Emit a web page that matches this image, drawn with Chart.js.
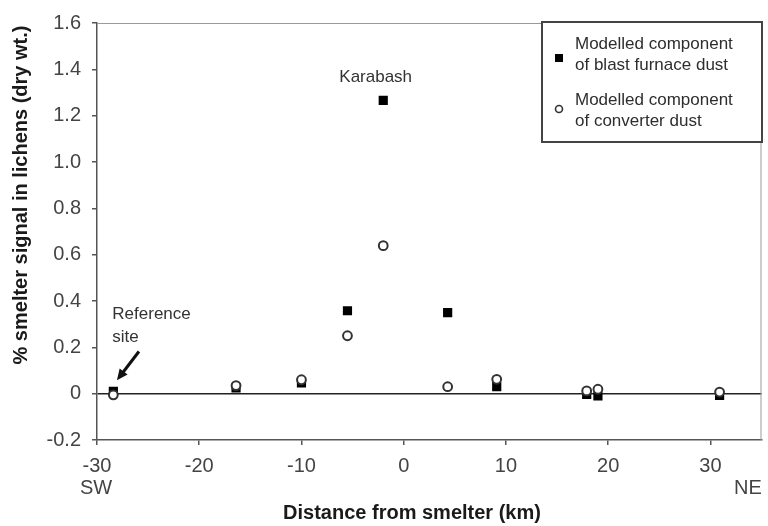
<!DOCTYPE html>
<html>
<head>
<meta charset="utf-8">
<script src="https://cdn.jsdelivr.net/npm/chart.js@4.4.0/dist/chart.umd.min.js"></script>
<style>
  body { margin: 0; background: #fff; }
  canvas { display: block; }
</style>
</head>
<body>
<canvas id="chart" width="768" height="526"></canvas>
<script>
// Distance from smelter (km), negative = SW, positive = NE
const distance = [-28.4, -16.4, -10.0, -5.5, -2.0, 4.3, 9.1, 17.9, 19.0, 30.9];
// % smelter signal in lichens (dry wt.)
const blastFurnace = [0.01, 0.025, 0.046, 0.358, 1.266, 0.35, 0.03, -0.003, -0.01, -0.007];
const converter = [-0.005, 0.035, 0.06, 0.25, 0.639, 0.03, 0.062, 0.012, 0.019, 0.007];

const xTicks = [-30, -20, -10, 0, 10, 20, 30];
const yTicks = [-0.2, 0, 0.2, 0.4, 0.6, 0.8, 1.0, 1.2, 1.4, 1.6];

const legendLabels = [
    ['Modelled component', 'of blast furnace dust'],
    ['Modelled component', 'of converter dust']
];

const FONT = '"Liberation Sans", Arial, sans-serif';

function toPoints(xs, ys) {
    return xs.map((x, i) => ({ x: x, y: ys[i] }));
}

// frame, legend, annotations and axis titles
const decorations = {
    id: 'decorations',
    afterDraw(chart) {
        const { ctx, chartArea: a, scales: { x, y } } = chart;
        ctx.save();

        // thin frame on top and right
        ctx.strokeStyle = '#9a9a9a';
        ctx.lineWidth = 1;
        ctx.beginPath();
        ctx.moveTo(a.left, a.top + 0.5);
        ctx.lineTo(a.right - 0.5, a.top + 0.5);
        ctx.lineTo(a.right - 0.5, a.bottom);
        ctx.stroke();

        // annotations
        ctx.fillStyle = '#333';
        ctx.font = '17px ' + FONT;
        ctx.textAlign = 'left';
        ctx.textBaseline = 'middle';
        ctx.fillText('Karabash', x.getPixelForValue(-6.3), y.getPixelForValue(1.364));
        ctx.fillText('Reference', x.getPixelForValue(-28.5), y.getPixelForValue(0.341));
        ctx.fillText('site', x.getPixelForValue(-28.5), y.getPixelForValue(0.243));

        // arrow to reference site
        const x0 = x.getPixelForValue(-25.9), y0 = y.getPixelForValue(0.182);
        const x1 = x.getPixelForValue(-28.05), y1 = y.getPixelForValue(0.058);
        const ang = Math.atan2(y1 - y0, x1 - x0);
        ctx.strokeStyle = '#111';
        ctx.fillStyle = '#111';
        ctx.lineWidth = 3;
        ctx.beginPath();
        ctx.moveTo(x0, y0);
        ctx.lineTo(x1 - 6 * Math.cos(ang), y1 - 6 * Math.sin(ang));
        ctx.stroke();
        ctx.beginPath();
        ctx.moveTo(x1, y1);
        ctx.lineTo(x1 - 11 * Math.cos(ang) + 5 * Math.sin(ang), y1 - 11 * Math.sin(ang) - 5 * Math.cos(ang));
        ctx.lineTo(x1 - 11 * Math.cos(ang) - 5 * Math.sin(ang), y1 - 11 * Math.sin(ang) + 5 * Math.cos(ang));
        ctx.closePath();
        ctx.fill();

        // legend box
        const lx = 542, ly = 22, lw = 220, lh = 120;
        ctx.fillStyle = '#fff';
        ctx.fillRect(lx, ly, lw, lh);
        ctx.strokeStyle = '#444';
        ctx.lineWidth = 2;
        ctx.strokeRect(lx, ly, lw, lh);

        ctx.fillStyle = '#2e2e2e';
        ctx.font = '17px ' + FONT;
        ctx.textAlign = 'left';
        ctx.textBaseline = 'middle';
        const rows = [44, 100];
        legendLabels.forEach((lines, i) => {
            ctx.fillText(lines[0], 575, rows[i]);
            ctx.fillText(lines[1], 575, rows[i] + 21);
        });
        ctx.fillStyle = '#000';
        ctx.fillRect(555, 54, 8, 8);
        ctx.beginPath();
        ctx.arc(559, 109, 3.5, 0, Math.PI * 2);
        ctx.fillStyle = '#fff';
        ctx.fill();
        ctx.strokeStyle = '#333';
        ctx.lineWidth = 1.6;
        ctx.stroke();

        // SW / NE
        ctx.fillStyle = '#444';
        ctx.font = '20px ' + FONT;
        ctx.textAlign = 'center';
        ctx.fillText('SW', 96, 488);
        ctx.fillText('NE', 748, 488);

        // axis titles
        ctx.fillStyle = '#1a1a1a';
        ctx.font = 'bold 20px ' + FONT;
        ctx.fillText('Distance from smelter (km)', 412, 513);
        ctx.translate(21, 195);
        ctx.rotate(-Math.PI / 2);
        ctx.fillText('% smelter signal in lichens (dry wt.)', 0, 0);

        ctx.restore();
    }
};

const chart = new Chart(document.getElementById('chart').getContext('2d'), {
    type: 'scatter',
    data: {
        datasets: [{
            label: legendLabels[0].join(' '),
            data: toPoints(distance, blastFurnace),
            pointStyle: 'rect',
            pointRadius: 6.5,
            pointBackgroundColor: '#000',
            pointBorderWidth: 0,
            order: 2
        }, {
            label: legendLabels[1].join(' '),
            data: toPoints(distance, converter),
            pointStyle: 'circle',
            pointRadius: 4.4,
            pointBackgroundColor: '#fff',
            pointBorderColor: '#333',
            pointBorderWidth: 2,
            order: 1
        }]
    },
    options: {
        responsive: false,
        animation: false,
        layout: { padding: { top: 21, right: 6, left: 0, bottom: 0 } },
        plugins: {
            legend: { display: false },
            tooltip: { enabled: false }
        },
        scales: {
            x: {
                type: 'linear',
                min: -30,
                max: 35,
                afterFit: s => { s.height = 86; },
                afterBuildTicks: s => { s.ticks = xTicks.map(v => ({ value: v })); },
                ticks: {
                    color: '#444',
                    font: { family: FONT, size: 20 },
                    padding: 9,
                    maxRotation: 0,
                    callback: v => String(v)
                },
                grid: { drawOnChartArea: false, tickLength: 5, tickColor: '#555', lineWidth: 1.5 },
                border: { color: '#555', width: 1.5 }
            },
            y: {
                min: -0.2,
                max: 1.6,
                afterFit: s => { s.width = 97; },
                afterBuildTicks: s => { s.ticks = yTicks.map(v => ({ value: v })); },
                ticks: {
                    color: '#444',
                    font: { family: FONT, size: 20 },
                    padding: 11,
                    callback: v => Math.abs(v) < 1e-9 ? '0' : v.toFixed(1)
                },
                grid: {
                    color: c => (c.tick && Math.abs(c.tick.value) < 1e-9) ? '#222' : 'rgba(0,0,0,0)',
                    lineWidth: 1.5,
                    tickLength: 5,
                    tickColor: '#555'
                },
                border: { color: '#555', width: 1.5 }
            }
        }
    },
    plugins: [decorations]
});
</script>
</body>
</html>
